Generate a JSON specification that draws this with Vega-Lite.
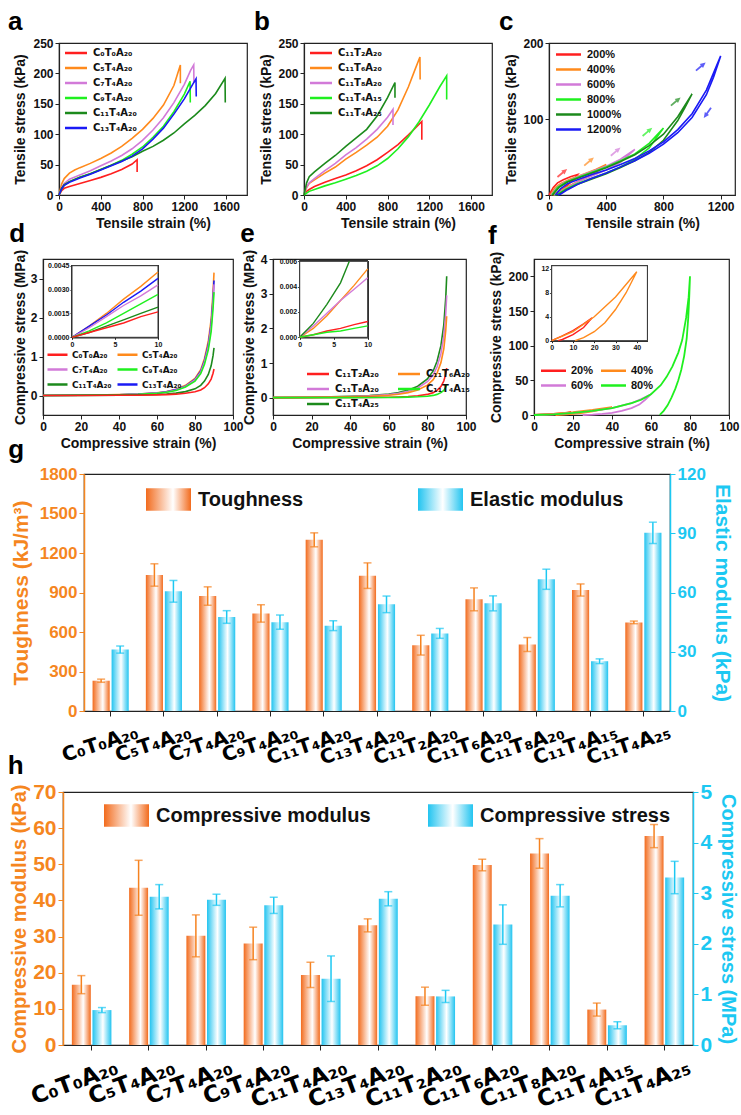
{
"$schema":"https://vega.github.io/schema/vega-lite/v6.json",
"padding":{"top":8,"left":0,"right":0,"bottom":0},
"background":"white",
"config":{
 "font":"Liberation Sans",
 "view":{"stroke":"#222","strokeWidth":1.2},
 "axis":{"grid":false,"labelFont":"Liberation Sans","labelFontWeight":"bold","labelFontSize":12,"labelColor":"#111","titleFont":"Liberation Sans","titleFontWeight":"bold","titleFontSize":14,"titleColor":"#111","domainColor":"#222","domainWidth":1.2,"tickColor":"#222","tickSize":4,"labelPadding":2,"titlePadding":4,"labelFlush":false,"labelOverlap":false},
 "legend":{"labelFont":"DejaVu Sans","labelFontWeight":"bold","labelColor":"#111","labelLimit":400,"padding":0},
 "title":{"anchor":"start","frame":"bounds","fontSize":26,"fontWeight":"bold","font":"Liberation Sans","color":"#000","offset":2}
},
"datasets":{
"sp":[{"a":0}],
"pa":[
{"s":"C₀T₀A₂₀","i":0,"x":0,"y":0},{"s":"C₀T₀A₂₀","i":1,"x":25,"y":7},{"s":"C₀T₀A₂₀","i":2,"x":50,"y":11},{"s":"C₀T₀A₂₀","i":3,"x":100,"y":14},{"s":"C₀T₀A₂₀","i":4,"x":200,"y":19},{"s":"C₀T₀A₂₀","i":5,"x":300,"y":24},{"s":"C₀T₀A₂₀","i":6,"x":400,"y":29},{"s":"C₀T₀A₂₀","i":7,"x":500,"y":35},{"s":"C₀T₀A₂₀","i":8,"x":600,"y":42},{"s":"C₀T₀A₂₀","i":9,"x":700,"y":51},{"s":"C₀T₀A₂₀","i":10,"x":748,"y":58},{"s":"C₀T₀A₂₀","i":11,"x":748,"y":38},
{"s":"C₅T₄A₂₀","i":0,"x":0,"y":0},{"s":"C₅T₄A₂₀","i":1,"x":25,"y":18},{"s":"C₅T₄A₂₀","i":2,"x":50,"y":27},{"s":"C₅T₄A₂₀","i":3,"x":100,"y":36},{"s":"C₅T₄A₂₀","i":4,"x":150,"y":41},{"s":"C₅T₄A₂₀","i":5,"x":200,"y":45},{"s":"C₅T₄A₂₀","i":6,"x":300,"y":52},{"s":"C₅T₄A₂₀","i":7,"x":400,"y":60},{"s":"C₅T₄A₂₀","i":8,"x":500,"y":69},{"s":"C₅T₄A₂₀","i":9,"x":600,"y":80},{"s":"C₅T₄A₂₀","i":10,"x":700,"y":93},{"s":"C₅T₄A₂₀","i":11,"x":800,"y":108},{"s":"C₅T₄A₂₀","i":12,"x":900,"y":126},{"s":"C₅T₄A₂₀","i":13,"x":1000,"y":148},{"s":"C₅T₄A₂₀","i":14,"x":1100,"y":180},{"s":"C₅T₄A₂₀","i":15,"x":1162,"y":214},{"s":"C₅T₄A₂₀","i":16,"x":1162,"y":184},
{"s":"C₇T₄A₂₀","i":0,"x":0,"y":0},{"s":"C₇T₄A₂₀","i":1,"x":25,"y":12},{"s":"C₇T₄A₂₀","i":2,"x":50,"y":19},{"s":"C₇T₄A₂₀","i":3,"x":100,"y":26},{"s":"C₇T₄A₂₀","i":4,"x":200,"y":33},{"s":"C₇T₄A₂₀","i":5,"x":300,"y":40},{"s":"C₇T₄A₂₀","i":6,"x":400,"y":48},{"s":"C₇T₄A₂₀","i":7,"x":500,"y":56},{"s":"C₇T₄A₂₀","i":8,"x":600,"y":65},{"s":"C₇T₄A₂₀","i":9,"x":700,"y":76},{"s":"C₇T₄A₂₀","i":10,"x":800,"y":90},{"s":"C₇T₄A₂₀","i":11,"x":900,"y":107},{"s":"C₇T₄A₂₀","i":12,"x":1000,"y":127},{"s":"C₇T₄A₂₀","i":13,"x":1100,"y":152},{"s":"C₇T₄A₂₀","i":14,"x":1200,"y":182},{"s":"C₇T₄A₂₀","i":15,"x":1260,"y":205},{"s":"C₇T₄A₂₀","i":16,"x":1290,"y":214},{"s":"C₇T₄A₂₀","i":17,"x":1292,"y":184},
{"s":"C₉T₄A₂₀","i":0,"x":0,"y":0},{"s":"C₉T₄A₂₀","i":1,"x":25,"y":10},{"s":"C₉T₄A₂₀","i":2,"x":50,"y":16},{"s":"C₉T₄A₂₀","i":3,"x":100,"y":22},{"s":"C₉T₄A₂₀","i":4,"x":200,"y":29},{"s":"C₉T₄A₂₀","i":5,"x":300,"y":35},{"s":"C₉T₄A₂₀","i":6,"x":400,"y":42},{"s":"C₉T₄A₂₀","i":7,"x":500,"y":49},{"s":"C₉T₄A₂₀","i":8,"x":600,"y":57},{"s":"C₉T₄A₂₀","i":9,"x":700,"y":67},{"s":"C₉T₄A₂₀","i":10,"x":800,"y":79},{"s":"C₉T₄A₂₀","i":11,"x":900,"y":95},{"s":"C₉T₄A₂₀","i":12,"x":1000,"y":113},{"s":"C₉T₄A₂₀","i":13,"x":1100,"y":137},{"s":"C₉T₄A₂₀","i":14,"x":1200,"y":166},{"s":"C₉T₄A₂₀","i":15,"x":1255,"y":187},{"s":"C₉T₄A₂₀","i":16,"x":1257,"y":152},
{"s":"C₁₁T₄A₂₀","i":0,"x":0,"y":0},{"s":"C₁₁T₄A₂₀","i":1,"x":25,"y":11},{"s":"C₁₁T₄A₂₀","i":2,"x":50,"y":17},{"s":"C₁₁T₄A₂₀","i":3,"x":100,"y":22},{"s":"C₁₁T₄A₂₀","i":4,"x":200,"y":29},{"s":"C₁₁T₄A₂₀","i":5,"x":300,"y":35},{"s":"C₁₁T₄A₂₀","i":6,"x":400,"y":42},{"s":"C₁₁T₄A₂₀","i":7,"x":500,"y":49},{"s":"C₁₁T₄A₂₀","i":8,"x":600,"y":56},{"s":"C₁₁T₄A₂₀","i":9,"x":700,"y":63},{"s":"C₁₁T₄A₂₀","i":10,"x":800,"y":72},{"s":"C₁₁T₄A₂₀","i":11,"x":900,"y":80},{"s":"C₁₁T₄A₂₀","i":12,"x":1000,"y":90},{"s":"C₁₁T₄A₂₀","i":13,"x":1100,"y":102},{"s":"C₁₁T₄A₂₀","i":14,"x":1200,"y":117},{"s":"C₁₁T₄A₂₀","i":15,"x":1300,"y":131},{"s":"C₁₁T₄A₂₀","i":16,"x":1400,"y":147},{"s":"C₁₁T₄A₂₀","i":17,"x":1500,"y":167},{"s":"C₁₁T₄A₂₀","i":18,"x":1590,"y":192},{"s":"C₁₁T₄A₂₀","i":19,"x":1592,"y":152},
{"s":"C₁₃T₄A₂₀","i":0,"x":0,"y":0},{"s":"C₁₃T₄A₂₀","i":1,"x":25,"y":10},{"s":"C₁₃T₄A₂₀","i":2,"x":50,"y":16},{"s":"C₁₃T₄A₂₀","i":3,"x":100,"y":21},{"s":"C₁₃T₄A₂₀","i":4,"x":200,"y":28},{"s":"C₁₃T₄A₂₀","i":5,"x":300,"y":34},{"s":"C₁₃T₄A₂₀","i":6,"x":400,"y":41},{"s":"C₁₃T₄A₂₀","i":7,"x":500,"y":48},{"s":"C₁₃T₄A₂₀","i":8,"x":600,"y":55},{"s":"C₁₃T₄A₂₀","i":9,"x":700,"y":64},{"s":"C₁₃T₄A₂₀","i":10,"x":800,"y":76},{"s":"C₁₃T₄A₂₀","i":11,"x":900,"y":92},{"s":"C₁₃T₄A₂₀","i":12,"x":1000,"y":110},{"s":"C₁₃T₄A₂₀","i":13,"x":1100,"y":133},{"s":"C₁₃T₄A₂₀","i":14,"x":1200,"y":158},{"s":"C₁₃T₄A₂₀","i":15,"x":1280,"y":182},{"s":"C₁₃T₄A₂₀","i":16,"x":1312,"y":191},{"s":"C₁₃T₄A₂₀","i":17,"x":1314,"y":162}
],
"pb":[
{"s":"C₁₁T₂A₂₀","i":0,"x":0,"y":0},{"s":"C₁₁T₂A₂₀","i":1,"x":25,"y":6},{"s":"C₁₁T₂A₂₀","i":2,"x":50,"y":9},{"s":"C₁₁T₂A₂₀","i":3,"x":100,"y":14},{"s":"C₁₁T₂A₂₀","i":4,"x":200,"y":21},{"s":"C₁₁T₂A₂₀","i":5,"x":300,"y":27},{"s":"C₁₁T₂A₂₀","i":6,"x":400,"y":33},{"s":"C₁₁T₂A₂₀","i":7,"x":500,"y":40},{"s":"C₁₁T₂A₂₀","i":8,"x":600,"y":48},{"s":"C₁₁T₂A₂₀","i":9,"x":700,"y":58},{"s":"C₁₁T₂A₂₀","i":10,"x":800,"y":70},{"s":"C₁₁T₂A₂₀","i":11,"x":900,"y":83},{"s":"C₁₁T₂A₂₀","i":12,"x":1000,"y":99},{"s":"C₁₁T₂A₂₀","i":13,"x":1100,"y":116},{"s":"C₁₁T₂A₂₀","i":14,"x":1128,"y":121},{"s":"C₁₁T₂A₂₀","i":15,"x":1128,"y":91},
{"s":"C₁₁T₆A₂₀","i":0,"x":0,"y":0},{"s":"C₁₁T₆A₂₀","i":1,"x":25,"y":12},{"s":"C₁₁T₆A₂₀","i":2,"x":50,"y":19},{"s":"C₁₁T₆A₂₀","i":3,"x":100,"y":25},{"s":"C₁₁T₆A₂₀","i":4,"x":200,"y":36},{"s":"C₁₁T₆A₂₀","i":5,"x":300,"y":46},{"s":"C₁₁T₆A₂₀","i":6,"x":400,"y":59},{"s":"C₁₁T₆A₂₀","i":7,"x":500,"y":70},{"s":"C₁₁T₆A₂₀","i":8,"x":600,"y":82},{"s":"C₁₁T₆A₂₀","i":9,"x":700,"y":95},{"s":"C₁₁T₆A₂₀","i":10,"x":800,"y":113},{"s":"C₁₁T₆A₂₀","i":11,"x":900,"y":140},{"s":"C₁₁T₆A₂₀","i":12,"x":1000,"y":178},{"s":"C₁₁T₆A₂₀","i":13,"x":1060,"y":205},{"s":"C₁₁T₆A₂₀","i":14,"x":1110,"y":227},{"s":"C₁₁T₆A₂₀","i":15,"x":1112,"y":190},
{"s":"C₁₁T₈A₂₀","i":0,"x":0,"y":0},{"s":"C₁₁T₈A₂₀","i":1,"x":25,"y":13},{"s":"C₁₁T₈A₂₀","i":2,"x":50,"y":20},{"s":"C₁₁T₈A₂₀","i":3,"x":100,"y":27},{"s":"C₁₁T₈A₂₀","i":4,"x":200,"y":40},{"s":"C₁₁T₈A₂₀","i":5,"x":300,"y":52},{"s":"C₁₁T₈A₂₀","i":6,"x":400,"y":66},{"s":"C₁₁T₈A₂₀","i":7,"x":500,"y":78},{"s":"C₁₁T₈A₂₀","i":8,"x":600,"y":92},{"s":"C₁₁T₈A₂₀","i":9,"x":700,"y":108},{"s":"C₁₁T₈A₂₀","i":10,"x":800,"y":128},{"s":"C₁₁T₈A₂₀","i":11,"x":852,"y":141},{"s":"C₁₁T₈A₂₀","i":12,"x":852,"y":115},
{"s":"C₁₁T₄A₁₅","i":0,"x":0,"y":0},{"s":"C₁₁T₄A₁₅","i":1,"x":25,"y":3},{"s":"C₁₁T₄A₁₅","i":2,"x":50,"y":6},{"s":"C₁₁T₄A₁₅","i":3,"x":100,"y":9},{"s":"C₁₁T₄A₁₅","i":4,"x":200,"y":15},{"s":"C₁₁T₄A₁₅","i":5,"x":300,"y":20},{"s":"C₁₁T₄A₁₅","i":6,"x":400,"y":26},{"s":"C₁₁T₄A₁₅","i":7,"x":500,"y":32},{"s":"C₁₁T₄A₁₅","i":8,"x":600,"y":39},{"s":"C₁₁T₄A₁₅","i":9,"x":700,"y":48},{"s":"C₁₁T₄A₁₅","i":10,"x":800,"y":60},{"s":"C₁₁T₄A₁₅","i":11,"x":900,"y":76},{"s":"C₁₁T₄A₁₅","i":12,"x":1000,"y":96},{"s":"C₁₁T₄A₁₅","i":13,"x":1100,"y":120},{"s":"C₁₁T₄A₁₅","i":14,"x":1200,"y":148},{"s":"C₁₁T₄A₁₅","i":15,"x":1300,"y":178},{"s":"C₁₁T₄A₁₅","i":16,"x":1366,"y":196},{"s":"C₁₁T₄A₁₅","i":17,"x":1366,"y":157},
{"s":"C₁₁T₄A₂₅","i":0,"x":0,"y":0},{"s":"C₁₁T₄A₂₅","i":1,"x":25,"y":20},{"s":"C₁₁T₄A₂₅","i":2,"x":50,"y":30},{"s":"C₁₁T₄A₂₅","i":3,"x":100,"y":38},{"s":"C₁₁T₄A₂₅","i":4,"x":200,"y":52},{"s":"C₁₁T₄A₂₅","i":5,"x":300,"y":65},{"s":"C₁₁T₄A₂₅","i":6,"x":400,"y":80},{"s":"C₁₁T₄A₂₅","i":7,"x":500,"y":94},{"s":"C₁₁T₄A₂₅","i":8,"x":600,"y":108},{"s":"C₁₁T₄A₂₅","i":9,"x":700,"y":130},{"s":"C₁₁T₄A₂₅","i":10,"x":800,"y":160},{"s":"C₁₁T₄A₂₅","i":11,"x":871,"y":185},{"s":"C₁₁T₄A₂₅","i":12,"x":871,"y":160}
],
"pc":[
{"s":"200%","i":0,"x":0,"y":0},{"s":"200%","i":1,"x":30,"y":10},{"s":"200%","i":2,"x":60,"y":16},{"s":"200%","i":3,"x":100,"y":20},{"s":"200%","i":4,"x":150,"y":24},{"s":"200%","i":5,"x":200,"y":27},{"s":"200%","i":6,"x":170,"y":20},{"s":"200%","i":7,"x":130,"y":13},{"s":"200%","i":8,"x":90,"y":7},{"s":"200%","i":9,"x":50,"y":2},{"s":"200%","i":10,"x":25,"y":0},
{"s":"400%","i":0,"x":10,"y":0},{"s":"400%","i":1,"x":40,"y":9},{"s":"400%","i":2,"x":80,"y":15},{"s":"400%","i":3,"x":150,"y":21},{"s":"400%","i":4,"x":250,"y":28},{"s":"400%","i":5,"x":330,"y":34},{"s":"400%","i":6,"x":400,"y":40},{"s":"400%","i":7,"x":330,"y":30},{"s":"400%","i":8,"x":250,"y":22},{"s":"400%","i":9,"x":170,"y":15},{"s":"400%","i":10,"x":100,"y":8},{"s":"400%","i":11,"x":50,"y":2},{"s":"400%","i":12,"x":30,"y":0},
{"s":"600%","i":0,"x":15,"y":0},{"s":"600%","i":1,"x":50,"y":9},{"s":"600%","i":2,"x":100,"y":16},{"s":"600%","i":3,"x":200,"y":24},{"s":"600%","i":4,"x":300,"y":31},{"s":"600%","i":5,"x":400,"y":38},{"s":"600%","i":6,"x":500,"y":47},{"s":"600%","i":7,"x":600,"y":60},{"s":"600%","i":8,"x":500,"y":43},{"s":"600%","i":9,"x":400,"y":33},{"s":"600%","i":10,"x":300,"y":25},{"s":"600%","i":11,"x":200,"y":17},{"s":"600%","i":12,"x":120,"y":9},{"s":"600%","i":13,"x":60,"y":2},{"s":"600%","i":14,"x":35,"y":0},
{"s":"800%","i":0,"x":20,"y":0},{"s":"800%","i":1,"x":60,"y":10},{"s":"800%","i":2,"x":120,"y":17},{"s":"800%","i":3,"x":200,"y":23},{"s":"800%","i":4,"x":300,"y":30},{"s":"800%","i":5,"x":400,"y":37},{"s":"800%","i":6,"x":500,"y":45},{"s":"800%","i":7,"x":600,"y":54},{"s":"800%","i":8,"x":700,"y":68},{"s":"800%","i":9,"x":800,"y":88},{"s":"800%","i":10,"x":700,"y":62},{"s":"800%","i":11,"x":600,"y":47},{"s":"800%","i":12,"x":500,"y":37},{"s":"800%","i":13,"x":400,"y":29},{"s":"800%","i":14,"x":300,"y":22},{"s":"800%","i":15,"x":200,"y":15},{"s":"800%","i":16,"x":120,"y":8},{"s":"800%","i":17,"x":60,"y":1},{"s":"800%","i":18,"x":40,"y":0},
{"s":"1000%","i":0,"x":25,"y":0},{"s":"1000%","i":1,"x":70,"y":10},{"s":"1000%","i":2,"x":130,"y":17},{"s":"1000%","i":3,"x":200,"y":22},{"s":"1000%","i":4,"x":300,"y":29},{"s":"1000%","i":5,"x":400,"y":36},{"s":"1000%","i":6,"x":500,"y":44},{"s":"1000%","i":7,"x":600,"y":53},{"s":"1000%","i":8,"x":700,"y":65},{"s":"1000%","i":9,"x":800,"y":80},{"s":"1000%","i":10,"x":900,"y":103},{"s":"1000%","i":11,"x":1000,"y":133},{"s":"1000%","i":12,"x":950,"y":115},{"s":"1000%","i":13,"x":900,"y":98},{"s":"1000%","i":14,"x":800,"y":72},{"s":"1000%","i":15,"x":700,"y":56},{"s":"1000%","i":16,"x":600,"y":45},{"s":"1000%","i":17,"x":500,"y":36},{"s":"1000%","i":18,"x":400,"y":28},{"s":"1000%","i":19,"x":300,"y":21},{"s":"1000%","i":20,"x":200,"y":14},{"s":"1000%","i":21,"x":120,"y":7},{"s":"1000%","i":22,"x":70,"y":1},{"s":"1000%","i":23,"x":50,"y":0},
{"s":"1200%","i":0,"x":45,"y":0},{"s":"1200%","i":1,"x":80,"y":8},{"s":"1200%","i":2,"x":130,"y":15},{"s":"1200%","i":3,"x":200,"y":20},{"s":"1200%","i":4,"x":300,"y":27},{"s":"1200%","i":5,"x":400,"y":33},{"s":"1200%","i":6,"x":500,"y":40},{"s":"1200%","i":7,"x":600,"y":48},{"s":"1200%","i":8,"x":700,"y":58},{"s":"1200%","i":9,"x":800,"y":70},{"s":"1200%","i":10,"x":900,"y":86},{"s":"1200%","i":11,"x":1000,"y":107},{"s":"1200%","i":12,"x":1100,"y":138},{"s":"1200%","i":13,"x":1200,"y":183},{"s":"1200%","i":14,"x":1150,"y":155},{"s":"1200%","i":15,"x":1100,"y":132},{"s":"1200%","i":16,"x":1000,"y":102},{"s":"1200%","i":17,"x":900,"y":82},{"s":"1200%","i":18,"x":800,"y":67},{"s":"1200%","i":19,"x":700,"y":55},{"s":"1200%","i":20,"x":600,"y":45},{"s":"1200%","i":21,"x":500,"y":37},{"s":"1200%","i":22,"x":400,"y":29},{"s":"1200%","i":23,"x":300,"y":22},{"s":"1200%","i":24,"x":200,"y":14},{"s":"1200%","i":25,"x":130,"y":7},{"s":"1200%","i":26,"x":80,"y":1},{"s":"1200%","i":27,"x":60,"y":0}
],
"pcarr":[
{"s":"200%","d":"up","x":93,"y":29},{"s":"400%","d":"up","x":280,"y":44},{"s":"600%","d":"up","x":466,"y":57},{"s":"800%","d":"up","x":688,"y":83},{"s":"1000%","d":"up","x":886,"y":123},{"s":"1200%","d":"up","x":1061,"y":169},{"s":"1200%","d":"down","x":1107,"y":108}
],
"pd":[
{"s":"C₅T₄A₂₀","x":0,"y":0},{"s":"C₅T₄A₂₀","x":20,"y":0.006},{"s":"C₅T₄A₂₀","x":40,"y":0.022},{"s":"C₅T₄A₂₀","x":50,"y":0.038},{"s":"C₅T₄A₂₀","x":60,"y":0.069},{"s":"C₅T₄A₂₀","x":65,"y":0.1},{"s":"C₅T₄A₂₀","x":70,"y":0.16},{"s":"C₅T₄A₂₀","x":75,"y":0.26},{"s":"C₅T₄A₂₀","x":80,"y":0.44},{"s":"C₅T₄A₂₀","x":83,"y":0.66},{"s":"C₅T₄A₂₀","x":85,"y":0.95},{"s":"C₅T₄A₂₀","x":87,"y":1.39},{"s":"C₅T₄A₂₀","x":88.5,"y":1.95},{"s":"C₅T₄A₂₀","x":89.5,"y":2.65},{"s":"C₅T₄A₂₀","x":90,"y":3.15},
{"s":"C₁₃T₄A₂₀","x":0,"y":0},{"s":"C₁₃T₄A₂₀","x":20,"y":0.006},{"s":"C₁₃T₄A₂₀","x":40,"y":0.021},{"s":"C₁₃T₄A₂₀","x":50,"y":0.035},{"s":"C₁₃T₄A₂₀","x":60,"y":0.065},{"s":"C₁₃T₄A₂₀","x":65,"y":0.094},{"s":"C₁₃T₄A₂₀","x":70,"y":0.15},{"s":"C₁₃T₄A₂₀","x":75,"y":0.24},{"s":"C₁₃T₄A₂₀","x":80,"y":0.41},{"s":"C₁₃T₄A₂₀","x":83,"y":0.62},{"s":"C₁₃T₄A₂₀","x":85,"y":0.89},{"s":"C₁₃T₄A₂₀","x":87,"y":1.3},{"s":"C₁₃T₄A₂₀","x":88.5,"y":1.83},{"s":"C₁₃T₄A₂₀","x":89.5,"y":2.48},{"s":"C₁₃T₄A₂₀","x":90,"y":2.95},
{"s":"C₇T₄A₂₀","x":0,"y":0},{"s":"C₇T₄A₂₀","x":20,"y":0.006},{"s":"C₇T₄A₂₀","x":40,"y":0.02},{"s":"C₇T₄A₂₀","x":50,"y":0.034},{"s":"C₇T₄A₂₀","x":60,"y":0.063},{"s":"C₇T₄A₂₀","x":65,"y":0.091},{"s":"C₇T₄A₂₀","x":70,"y":0.14},{"s":"C₇T₄A₂₀","x":75,"y":0.23},{"s":"C₇T₄A₂₀","x":80,"y":0.4},{"s":"C₇T₄A₂₀","x":83,"y":0.6},{"s":"C₇T₄A₂₀","x":85,"y":0.86},{"s":"C₇T₄A₂₀","x":87,"y":1.25},{"s":"C₇T₄A₂₀","x":88.5,"y":1.77},{"s":"C₇T₄A₂₀","x":89.5,"y":2.39},{"s":"C₇T₄A₂₀","x":90,"y":2.85},
{"s":"C₉T₄A₂₀","x":0,"y":0},{"s":"C₉T₄A₂₀","x":20,"y":0.005},{"s":"C₉T₄A₂₀","x":40,"y":0.019},{"s":"C₉T₄A₂₀","x":50,"y":0.032},{"s":"C₉T₄A₂₀","x":60,"y":0.058},{"s":"C₉T₄A₂₀","x":65,"y":0.085},{"s":"C₉T₄A₂₀","x":70,"y":0.13},{"s":"C₉T₄A₂₀","x":75,"y":0.22},{"s":"C₉T₄A₂₀","x":80,"y":0.37},{"s":"C₉T₄A₂₀","x":83,"y":0.56},{"s":"C₉T₄A₂₀","x":85,"y":0.8},{"s":"C₉T₄A₂₀","x":87,"y":1.17},{"s":"C₉T₄A₂₀","x":88.5,"y":1.64},{"s":"C₉T₄A₂₀","x":89.5,"y":2.23},{"s":"C₉T₄A₂₀","x":90,"y":2.65},
{"s":"C₁₁T₄A₂₀","x":0,"y":0},{"s":"C₁₁T₄A₂₀","x":20,"y":0.003},{"s":"C₁₁T₄A₂₀","x":40,"y":0.009},{"s":"C₁₁T₄A₂₀","x":50,"y":0.015},{"s":"C₁₁T₄A₂₀","x":60,"y":0.027},{"s":"C₁₁T₄A₂₀","x":65,"y":0.039},{"s":"C₁₁T₄A₂₀","x":70,"y":0.061},{"s":"C₁₁T₄A₂₀","x":75,"y":0.1},{"s":"C₁₁T₄A₂₀","x":80,"y":0.17},{"s":"C₁₁T₄A₂₀","x":83,"y":0.26},{"s":"C₁₁T₄A₂₀","x":85,"y":0.37},{"s":"C₁₁T₄A₂₀","x":87,"y":0.54},{"s":"C₁₁T₄A₂₀","x":88.5,"y":0.76},{"s":"C₁₁T₄A₂₀","x":89.5,"y":1.02},{"s":"C₁₁T₄A₂₀","x":90,"y":1.22},
{"s":"C₀T₀A₂₀","x":0,"y":0},{"s":"C₀T₀A₂₀","x":20,"y":0.001},{"s":"C₀T₀A₂₀","x":40,"y":0.005},{"s":"C₀T₀A₂₀","x":50,"y":0.008},{"s":"C₀T₀A₂₀","x":60,"y":0.015},{"s":"C₀T₀A₂₀","x":65,"y":0.022},{"s":"C₀T₀A₂₀","x":70,"y":0.034},{"s":"C₀T₀A₂₀","x":75,"y":0.056},{"s":"C₀T₀A₂₀","x":80,"y":0.095},{"s":"C₀T₀A₂₀","x":83,"y":0.14},{"s":"C₀T₀A₂₀","x":85,"y":0.2},{"s":"C₀T₀A₂₀","x":87,"y":0.3},{"s":"C₀T₀A₂₀","x":88.5,"y":0.42},{"s":"C₀T₀A₂₀","x":89.5,"y":0.57},{"s":"C₀T₀A₂₀","x":90,"y":0.68}
],
"pdi":[
{"s":"C₅T₄A₂₀","x":0,"y":0},{"s":"C₅T₄A₂₀","x":2,"y":0.0007},{"s":"C₅T₄A₂₀","x":4,"y":0.0015},{"s":"C₅T₄A₂₀","x":6,"y":0.0024},{"s":"C₅T₄A₂₀","x":8,"y":0.0032},{"s":"C₅T₄A₂₀","x":10,"y":0.0041},
{"s":"C₁₃T₄A₂₀","x":0,"y":0},{"s":"C₁₃T₄A₂₀","x":2,"y":0.0007},{"s":"C₁₃T₄A₂₀","x":4,"y":0.0014},{"s":"C₁₃T₄A₂₀","x":6,"y":0.0022},{"s":"C₁₃T₄A₂₀","x":8,"y":0.0029},{"s":"C₁₃T₄A₂₀","x":10,"y":0.0037},
{"s":"C₇T₄A₂₀","x":0,"y":0},{"s":"C₇T₄A₂₀","x":2,"y":0.0006},{"s":"C₇T₄A₂₀","x":4,"y":0.0013},{"s":"C₇T₄A₂₀","x":6,"y":0.002},{"s":"C₇T₄A₂₀","x":8,"y":0.0026},{"s":"C₇T₄A₂₀","x":10,"y":0.0033},
{"s":"C₉T₄A₂₀","x":0,"y":0},{"s":"C₉T₄A₂₀","x":2,"y":0.0004},{"s":"C₉T₄A₂₀","x":4,"y":0.0009},{"s":"C₉T₄A₂₀","x":6,"y":0.0015},{"s":"C₉T₄A₂₀","x":8,"y":0.0021},{"s":"C₉T₄A₂₀","x":10,"y":0.0027},
{"s":"C₁₁T₄A₂₀","x":0,"y":0},{"s":"C₁₁T₄A₂₀","x":2,"y":0.0003},{"s":"C₁₁T₄A₂₀","x":4,"y":0.0007},{"s":"C₁₁T₄A₂₀","x":6,"y":0.0011},{"s":"C₁₁T₄A₂₀","x":8,"y":0.0015},{"s":"C₁₁T₄A₂₀","x":10,"y":0.0019},
{"s":"C₀T₀A₂₀","x":0,"y":0},{"s":"C₀T₀A₂₀","x":2,"y":0.0003},{"s":"C₀T₀A₂₀","x":4,"y":0.0006},{"s":"C₀T₀A₂₀","x":6,"y":0.0009},{"s":"C₀T₀A₂₀","x":8,"y":0.0013},{"s":"C₀T₀A₂₀","x":10,"y":0.0016}
],
"pe":[
{"s":"C₁₁T₄A₂₅","x":0,"y":0},{"s":"C₁₁T₄A₂₅","x":20,"y":0.014},{"s":"C₁₁T₄A₂₅","x":40,"y":0.042},{"s":"C₁₁T₄A₂₅","x":50,"y":0.063},{"s":"C₁₁T₄A₂₅","x":60,"y":0.105},{"s":"C₁₁T₄A₂₅","x":65,"y":0.147},{"s":"C₁₁T₄A₂₅","x":70,"y":0.217},{"s":"C₁₁T₄A₂₅","x":75,"y":0.33},{"s":"C₁₁T₄A₂₅","x":80,"y":0.54},{"s":"C₁₁T₄A₂₅","x":83,"y":0.77},{"s":"C₁₁T₄A₂₅","x":85,"y":1.05},{"s":"C₁₁T₄A₂₅","x":87,"y":1.5},{"s":"C₁₁T₄A₂₅","x":88.5,"y":2.1},{"s":"C₁₁T₄A₂₅","x":89.5,"y":2.87},{"s":"C₁₁T₄A₂₅","x":90,"y":3.5},
{"s":"C₁₁T₈A₂₀","x":0,"y":0},{"s":"C₁₁T₈A₂₀","x":20,"y":0.012},{"s":"C₁₁T₈A₂₀","x":40,"y":0.035},{"s":"C₁₁T₈A₂₀","x":50,"y":0.053},{"s":"C₁₁T₈A₂₀","x":60,"y":0.089},{"s":"C₁₁T₈A₂₀","x":65,"y":0.124},{"s":"C₁₁T₈A₂₀","x":70,"y":0.183},{"s":"C₁₁T₈A₂₀","x":75,"y":0.28},{"s":"C₁₁T₈A₂₀","x":80,"y":0.46},{"s":"C₁₁T₈A₂₀","x":83,"y":0.65},{"s":"C₁₁T₈A₂₀","x":85,"y":0.89},{"s":"C₁₁T₈A₂₀","x":87,"y":1.27},{"s":"C₁₁T₈A₂₀","x":88.5,"y":1.77},{"s":"C₁₁T₈A₂₀","x":89.5,"y":2.42},{"s":"C₁₁T₈A₂₀","x":90,"y":2.95},
{"s":"C₁₁T₆A₂₀","x":0,"y":0},{"s":"C₁₁T₆A₂₀","x":20,"y":0.009},{"s":"C₁₁T₆A₂₀","x":40,"y":0.028},{"s":"C₁₁T₆A₂₀","x":50,"y":0.042},{"s":"C₁₁T₆A₂₀","x":60,"y":0.07},{"s":"C₁₁T₆A₂₀","x":65,"y":0.099},{"s":"C₁₁T₆A₂₀","x":70,"y":0.146},{"s":"C₁₁T₆A₂₀","x":75,"y":0.22},{"s":"C₁₁T₆A₂₀","x":80,"y":0.36},{"s":"C₁₁T₆A₂₀","x":83,"y":0.52},{"s":"C₁₁T₆A₂₀","x":85,"y":0.71},{"s":"C₁₁T₆A₂₀","x":87,"y":1.01},{"s":"C₁₁T₆A₂₀","x":88.5,"y":1.41},{"s":"C₁₁T₆A₂₀","x":89.5,"y":1.93},{"s":"C₁₁T₆A₂₀","x":90,"y":2.35},
{"s":"C₁₁T₂A₂₀","x":0,"y":0},{"s":"C₁₁T₂A₂₀","x":20,"y":0.002},{"s":"C₁₁T₂A₂₀","x":40,"y":0.005},{"s":"C₁₁T₂A₂₀","x":50,"y":0.0085},{"s":"C₁₁T₂A₂₀","x":60,"y":0.014},{"s":"C₁₁T₂A₂₀","x":65,"y":0.021},{"s":"C₁₁T₂A₂₀","x":70,"y":0.034},{"s":"C₁₁T₂A₂₀","x":75,"y":0.055},{"s":"C₁₁T₂A₂₀","x":80,"y":0.094},{"s":"C₁₁T₂A₂₀","x":83,"y":0.145},{"s":"C₁₁T₂A₂₀","x":85,"y":0.21},{"s":"C₁₁T₂A₂₀","x":87,"y":0.32},{"s":"C₁₁T₂A₂₀","x":88.5,"y":0.48},{"s":"C₁₁T₂A₂₀","x":89.5,"y":0.68},{"s":"C₁₁T₂A₂₀","x":90,"y":0.85},
{"s":"C₁₁T₄A₁₅","x":0,"y":0},{"s":"C₁₁T₄A₁₅","x":20,"y":0.001},{"s":"C₁₁T₄A₁₅","x":40,"y":0.002},{"s":"C₁₁T₄A₁₅","x":50,"y":0.004},{"s":"C₁₁T₄A₁₅","x":60,"y":0.0065},{"s":"C₁₁T₄A₁₅","x":65,"y":0.0095},{"s":"C₁₁T₄A₁₅","x":70,"y":0.015},{"s":"C₁₁T₄A₁₅","x":75,"y":0.025},{"s":"C₁₁T₄A₁₅","x":80,"y":0.042},{"s":"C₁₁T₄A₁₅","x":83,"y":0.065},{"s":"C₁₁T₄A₁₅","x":85,"y":0.095},{"s":"C₁₁T₄A₁₅","x":87,"y":0.144},{"s":"C₁₁T₄A₁₅","x":88.5,"y":0.21},{"s":"C₁₁T₄A₁₅","x":89.5,"y":0.3},{"s":"C₁₁T₄A₁₅","x":90,"y":0.38}
],
"pei":[
{"s":"C₁₁T₆A₂₀","x":0,"y":0},{"s":"C₁₁T₆A₂₀","x":2,"y":0.0007},{"s":"C₁₁T₆A₂₀","x":4,"y":0.0017},{"s":"C₁₁T₆A₂₀","x":6,"y":0.0029},{"s":"C₁₁T₆A₂₀","x":8,"y":0.0041},{"s":"C₁₁T₆A₂₀","x":10,"y":0.0054},
{"s":"C₁₁T₈A₂₀","x":0,"y":0},{"s":"C₁₁T₈A₂₀","x":2,"y":0.0009},{"s":"C₁₁T₈A₂₀","x":4,"y":0.0019},{"s":"C₁₁T₈A₂₀","x":6,"y":0.0029},{"s":"C₁₁T₈A₂₀","x":8,"y":0.0038},{"s":"C₁₁T₈A₂₀","x":10,"y":0.0047},
{"s":"C₁₁T₄A₂₅","x":0,"y":0},{"s":"C₁₁T₄A₂₅","x":2,"y":0.0011},{"s":"C₁₁T₄A₂₅","x":4,"y":0.0026},{"s":"C₁₁T₄A₂₅","x":6,"y":0.0043},{"s":"C₁₁T₄A₂₅","x":7.3,"y":0.006},
{"s":"C₁₁T₂A₂₀","x":0,"y":0},{"s":"C₁₁T₂A₂₀","x":2,"y":0.0002},{"s":"C₁₁T₂A₂₀","x":4,"y":0.0005},{"s":"C₁₁T₂A₂₀","x":6,"y":0.0007},{"s":"C₁₁T₂A₂₀","x":8,"y":0.001},{"s":"C₁₁T₂A₂₀","x":10,"y":0.00125},
{"s":"C₁₁T₄A₁₅","x":0,"y":0},{"s":"C₁₁T₄A₁₅","x":2,"y":0.0002},{"s":"C₁₁T₄A₁₅","x":4,"y":0.0004},{"s":"C₁₁T₄A₁₅","x":6,"y":0.0005},{"s":"C₁₁T₄A₁₅","x":8,"y":0.0007},{"s":"C₁₁T₄A₁₅","x":10,"y":0.0009}
],
"pf":[
{"s":"20%","i":0,"x":0,"y":0},{"s":"20%","i":1,"x":5,"y":0.8},{"s":"20%","i":2,"x":10,"y":1.7},{"s":"20%","i":3,"x":15,"y":2.8},{"s":"20%","i":4,"x":19,"y":3.8},{"s":"20%","i":5,"x":15,"y":2.2},{"s":"20%","i":6,"x":10,"y":1},{"s":"20%","i":7,"x":5,"y":0.2},{"s":"20%","i":8,"x":3,"y":0},
{"s":"40%","i":0,"x":0,"y":0},{"s":"40%","i":1,"x":10,"y":1.5},{"s":"40%","i":2,"x":20,"y":4},{"s":"40%","i":3,"x":30,"y":7.3},{"s":"40%","i":4,"x":40,"y":11.5},{"s":"40%","i":5,"x":35,"y":8},{"s":"40%","i":6,"x":30,"y":5.2},{"s":"40%","i":7,"x":25,"y":3},{"s":"40%","i":8,"x":20,"y":1.5},{"s":"40%","i":9,"x":15,"y":0.5},{"s":"40%","i":10,"x":11,"y":0},
{"s":"60%","i":0,"x":0,"y":0},{"s":"60%","i":1,"x":10,"y":1},{"s":"60%","i":2,"x":20,"y":3},{"s":"60%","i":3,"x":30,"y":6},{"s":"60%","i":4,"x":40,"y":10},{"s":"60%","i":5,"x":50,"y":17},{"s":"60%","i":6,"x":55,"y":23},{"s":"60%","i":7,"x":60,"y":30},{"s":"60%","i":8,"x":57,"y":22},{"s":"60%","i":9,"x":54,"y":15},{"s":"60%","i":10,"x":50,"y":10},{"s":"60%","i":11,"x":45,"y":6},{"s":"60%","i":12,"x":40,"y":3},{"s":"60%","i":13,"x":35,"y":1.5},{"s":"60%","i":14,"x":30,"y":0.5},{"s":"60%","i":15,"x":25,"y":0},
{"s":"80%","i":0,"x":0,"y":0},{"s":"80%","i":1,"x":10,"y":1},{"s":"80%","i":2,"x":20,"y":3},{"s":"80%","i":3,"x":30,"y":6},{"s":"80%","i":4,"x":40,"y":10},{"s":"80%","i":5,"x":50,"y":17},{"s":"80%","i":6,"x":55,"y":22},{"s":"80%","i":7,"x":60,"y":30},{"s":"80%","i":8,"x":65,"y":43},{"s":"80%","i":9,"x":68,"y":55},{"s":"80%","i":10,"x":71,"y":70},{"s":"80%","i":11,"x":74,"y":90},{"s":"80%","i":12,"x":76,"y":108},{"s":"80%","i":13,"x":78,"y":140},{"s":"80%","i":14,"x":79.3,"y":170},{"s":"80%","i":15,"x":80,"y":200},{"s":"80%","i":16,"x":79.6,"y":170},{"s":"80%","i":17,"x":79.1,"y":140},{"s":"80%","i":18,"x":78.3,"y":110},{"s":"80%","i":19,"x":77,"y":85},{"s":"80%","i":20,"x":75.5,"y":65},{"s":"80%","i":21,"x":74,"y":50},{"s":"80%","i":22,"x":72.5,"y":38},{"s":"80%","i":23,"x":70.5,"y":25},{"s":"80%","i":24,"x":68.5,"y":14},{"s":"80%","i":25,"x":66.5,"y":6},{"s":"80%","i":26,"x":65,"y":1.5},{"s":"80%","i":27,"x":64.5,"y":0}
],
"pg":[
{"s":"C₀T₀A₂₀","k":"Toughness","v":230,"lo":218,"hi":242},{"s":"C₀T₀A₂₀","k":"Elastic modulus","v":31.1,"lo":29.3,"hi":32.9},
{"s":"C₅T₄A₂₀","k":"Toughness","v":1033,"lo":948,"hi":1118},{"s":"C₅T₄A₂₀","k":"Elastic modulus","v":60.6,"lo":55.1,"hi":66.1},
{"s":"C₇T₄A₂₀","k":"Toughness","v":873,"lo":803,"hi":943},{"s":"C₇T₄A₂₀","k":"Elastic modulus","v":47.6,"lo":44.4,"hi":50.8},
{"s":"C₉T₄A₂₀","k":"Toughness","v":741,"lo":675,"hi":807},{"s":"C₉T₄A₂₀","k":"Elastic modulus","v":45.0,"lo":41.4,"hi":48.6},
{"s":"C₁₁T₄A₂₀","k":"Toughness","v":1300,"lo":1247,"hi":1353},{"s":"C₁₁T₄A₂₀","k":"Elastic modulus","v":43.2,"lo":40.7,"hi":45.7},
{"s":"C₁₃T₄A₂₀","k":"Toughness","v":1028,"lo":931,"hi":1125},{"s":"C₁₃T₄A₂₀","k":"Elastic modulus","v":54.0,"lo":49.8,"hi":58.2},
{"s":"C₁₁T₂A₂₀","k":"Toughness","v":500,"lo":425,"hi":575},{"s":"C₁₁T₂A₂₀","k":"Elastic modulus","v":39.3,"lo":36.8,"hi":41.8},
{"s":"C₁₁T₆A₂₀","k":"Toughness","v":848,"lo":761,"hi":935},{"s":"C₁₁T₆A₂₀","k":"Elastic modulus","v":54.5,"lo":50.7,"hi":58.3},
{"s":"C₁₁T₈A₂₀","k":"Toughness","v":505,"lo":452,"hi":558},{"s":"C₁₁T₈A₂₀","k":"Elastic modulus","v":66.7,"lo":61.6,"hi":71.8},
{"s":"C₁₁T₄A₁₅","k":"Toughness","v":919,"lo":873,"hi":965},{"s":"C₁₁T₄A₁₅","k":"Elastic modulus","v":25.2,"lo":24.0,"hi":26.4},
{"s":"C₁₁T₄A₂₅","k":"Toughness","v":673,"lo":663,"hi":683},{"s":"C₁₁T₄A₂₅","k":"Elastic modulus","v":90.2,"lo":84.8,"hi":95.6}
],
"ph":[
{"s":"C₀T₀A₂₀","k":"Compressive modulus","v":16.7,"lo":14.2,"hi":19.2},{"s":"C₀T₀A₂₀","k":"Compressive stress","v":0.69,"lo":0.64,"hi":0.74},
{"s":"C₅T₄A₂₀","k":"Compressive modulus","v":43.5,"lo":35.9,"hi":51.1},{"s":"C₅T₄A₂₀","k":"Compressive stress","v":2.93,"lo":2.69,"hi":3.17},
{"s":"C₇T₄A₂₀","k":"Compressive modulus","v":30.2,"lo":24.4,"hi":36.0},{"s":"C₇T₄A₂₀","k":"Compressive stress","v":2.87,"lo":2.76,"hi":2.98},
{"s":"C₉T₄A₂₀","k":"Compressive modulus","v":28.1,"lo":23.6,"hi":32.6},{"s":"C₉T₄A₂₀","k":"Compressive stress","v":2.76,"lo":2.6,"hi":2.92},
{"s":"C₁₁T₄A₂₀","k":"Compressive modulus","v":19.4,"lo":15.9,"hi":22.9},{"s":"C₁₁T₄A₂₀","k":"Compressive stress","v":1.31,"lo":0.86,"hi":1.76},
{"s":"C₁₃T₄A₂₀","k":"Compressive modulus","v":33.1,"lo":31.3,"hi":34.9},{"s":"C₁₃T₄A₂₀","k":"Compressive stress","v":2.89,"lo":2.75,"hi":3.03},
{"s":"C₁₁T₂A₂₀","k":"Compressive modulus","v":13.5,"lo":11.0,"hi":16.0},{"s":"C₁₁T₂A₂₀","k":"Compressive stress","v":0.96,"lo":0.84,"hi":1.08},
{"s":"C₁₁T₆A₂₀","k":"Compressive modulus","v":49.8,"lo":48.2,"hi":51.4},{"s":"C₁₁T₆A₂₀","k":"Compressive stress","v":2.38,"lo":1.99,"hi":2.77},
{"s":"C₁₁T₈A₂₀","k":"Compressive modulus","v":53.0,"lo":48.9,"hi":57.1},{"s":"C₁₁T₈A₂₀","k":"Compressive stress","v":2.95,"lo":2.73,"hi":3.17},
{"s":"C₁₁T₄A₁₅","k":"Compressive modulus","v":9.8,"lo":8.0,"hi":11.6},{"s":"C₁₁T₄A₁₅","k":"Compressive stress","v":0.39,"lo":0.32,"hi":0.46},
{"s":"C₁₁T₄A₂₅","k":"Compressive modulus","v":57.8,"lo":54.6,"hi":61.0},{"s":"C₁₁T₄A₂₅","k":"Compressive stress","v":3.31,"lo":2.99,"hi":3.63}
]
},
"concat":[
{"concat":[
 {"hconcat":[
  {"width":1,"height":10,"data":{"name":"sp"},"mark":{"type":"point","opacity":0},"encoding":{},"view":{"stroke":null}},
  {"hconcat":[
  {"title":{"text":"a","dx":-6},"width":188,"height":152,"data":{"name":"pa"},"mark":{"type":"line","strokeWidth":1.6},
   "encoding":{"x":{"field":"x","type":"quantitative","scale":{"domain":[0,1800],"nice":false},"axis":{"title":"Tensile strain (%)","values":[0,400,800,1200,1600],"format":"d"}},
    "y":{"field":"y","type":"quantitative","scale":{"domain":[0,250],"nice":false},"axis":{"title":"Tensile stress (kPa)","values":[0,50,100,150,200,250],"titlePadding":5}},
    "color":{"field":"s","type":"nominal","scale":{"domain":["C₀T₀A₂₀","C₅T₄A₂₀","C₇T₄A₂₀","C₉T₄A₂₀","C₁₁T₄A₂₀","C₁₃T₄A₂₀"],"range":["#FF1F1F","#FF8A1C","#D27AD8","#1FF01F","#1C8A1C","#1A1AF5"]},"legend":{"orient":"none","legendX":10,"legendY":3,"title":null,"symbolType":"M-2,0H2","symbolSize":121,"symbolStrokeWidth":2.5,"labelFontSize":10,"labelOffset":10,"rowPadding":3}},
    "order":{"field":"i","type":"quantitative"}}},
  {"title":{"text":"b","dx":-6},"width":188,"height":152,"data":{"name":"pb"},"mark":{"type":"line","strokeWidth":1.6},
   "encoding":{"x":{"field":"x","type":"quantitative","scale":{"domain":[0,1800],"nice":false},"axis":{"title":"Tensile strain (%)","values":[0,400,800,1200,1600],"format":"d"}},
    "y":{"field":"y","type":"quantitative","scale":{"domain":[0,250],"nice":false},"axis":{"title":"Tensile stress (kPa)","values":[0,50,100,150,200,250]}},
    "color":{"field":"s","type":"nominal","scale":{"domain":["C₁₁T₂A₂₀","C₁₁T₆A₂₀","C₁₁T₈A₂₀","C₁₁T₄A₁₅","C₁₁T₄A₂₅"],"range":["#FF1F1F","#FF8A1C","#D27AD8","#1FF01F","#1C8A1C"]},"legend":{"orient":"none","legendX":10,"legendY":3,"title":null,"symbolType":"M-2,0H2","symbolSize":121,"symbolStrokeWidth":2.5,"labelFontSize":10,"labelOffset":10,"rowPadding":3}},
    "order":{"field":"i","type":"quantitative"}}},
  {"title":{"text":"c","dx":-6},"width":186,"height":152,
   "layer":[
    {"data":{"name":"pc"},"mark":{"type":"line","strokeWidth":1.6},
     "encoding":{"x":{"field":"x","type":"quantitative","scale":{"domain":[0,1300],"nice":false},"axis":{"title":"Tensile strain (%)","values":[0,200,400,600,800,1000,1200],"format":"d"}},
      "y":{"field":"y","type":"quantitative","scale":{"domain":[0,200],"nice":false},"axis":{"title":"Tensile stress (kPa)","values":[0,50,100,150,200]}},
      "color":{"field":"s","type":"nominal","scale":{"domain":["200%","400%","600%","800%","1000%","1200%"],"range":["#FF1F1F","#FF8A1C","#D27AD8","#1FF01F","#1C8A1C","#1A1AF5"]},"legend":{"orient":"none","legendX":12,"legendY":4,"title":null,"symbolType":"M-2,0H2","symbolSize":156,"symbolStrokeWidth":2.5,"labelFontSize":11,"labelFont":"Liberation Sans","labelOffset":11,"rowPadding":2}},
      "order":{"field":"i","type":"quantitative"}}},
    {"data":{"name":"pcarr"},"transform":[{"filter":"datum.d==='up'"}],"mark":{"type":"point","shape":"arrow","filled":true,"size":160,"angle":50,"opacity":0.7},
     "encoding":{"x":{"field":"x","type":"quantitative"},"y":{"field":"y","type":"quantitative"},"color":{"field":"s","type":"nominal","legend":null}}},
    {"data":{"name":"pcarr"},"transform":[{"filter":"datum.d==='down'"}],"mark":{"type":"point","shape":"arrow","filled":true,"size":160,"angle":215,"opacity":0.7},
     "encoding":{"x":{"field":"x","type":"quantitative"},"y":{"field":"y","type":"quantitative"},"color":{"field":"s","type":"nominal","legend":null}}}
   ]}
  ],"spacing":5,"resolve":{"scale":{"color":"independent","x":"independent","y":"independent"},"legend":{"color":"independent"}}}
 ],"spacing":0,"resolve":{"scale":{"color":"independent","x":"independent","y":"independent"},"legend":{"color":"independent"}}},
 {"hconcat":[
  {"width":3,"height":10,"data":{"name":"sp"},"mark":{"type":"point","opacity":0},"encoding":{},"view":{"stroke":null}},
  {"hconcat":[
  {"title":{"text":"d","dx":-4},"width":190,"height":156,
   "layer":[
    {"data":{"name":"pd"},"mark":{"type":"line","strokeWidth":1.6},
     "encoding":{"x":{"field":"x","type":"quantitative","scale":{"domain":[0,100],"nice":false},"axis":{"title":"Compressive strain (%)","values":[0,20,40,60,80,100]}},
      "y":{"field":"y","type":"quantitative","scale":{"domain":[-0.5,3.5],"nice":false},"axis":{"title":"Compressive stress (MPa)","values":[0,1,2,3],"titlePadding":3}},
      "color":{"field":"s","type":"nominal","scale":{"domain":["C₀T₀A₂₀","C₅T₄A₂₀","C₇T₄A₂₀","C₉T₄A₂₀","C₁₁T₄A₂₀","C₁₃T₄A₂₀"],"range":["#FF1F1F","#FF8A1C","#D27AD8","#1FF01F","#1C8A1C","#1A1AF5"]},"legend":{"orient":"none","legendX":8,"legendY":89,"columns":2,"direction":"horizontal","columnPadding":0,"title":null,"symbolType":"M-2,0H2","symbolSize":100,"symbolStrokeWidth":2.5,"labelFontSize":9,"labelOffset":8,"rowPadding":3}}}},
    {"data":{"name":"pdi"},
     "layer":[
      {"mark":{"type":"rect","fill":"white","stroke":"#333","strokeWidth":1},
       "encoding":{"x":{"datum":0,"type":"quantitative","scale":{"domain":[0,10],"range":[29,115],"nice":false},"axis":{"orient":"bottom","offset":-77.7,"title":null,"values":[0,5,10],"labelFontSize":7,"tickSize":2,"labelPadding":1}},"x2":{"datum":10},
        "y":{"datum":0,"type":"quantitative","scale":{"domain":[0,0.0045],"range":[78.3,6.7],"nice":false,"zero":false},"axis":{"orient":"left","offset":-29,"title":null,"values":[0,0.0015,0.003,0.0045],"format":".4f","labelFontSize":7,"tickSize":2,"labelPadding":1}},"y2":{"datum":0.0045}}},
      {"mark":{"type":"line","strokeWidth":1.4},
       "encoding":{"x":{"field":"x","type":"quantitative","scale":{"domain":[0,10],"range":[29,115],"nice":false},"axis":{"orient":"bottom","offset":-77.7,"title":null,"values":[0,5,10],"labelFontSize":7,"tickSize":2,"labelPadding":1}},
        "y":{"field":"y","type":"quantitative","scale":{"domain":[0,0.0045],"range":[78.3,6.7],"nice":false,"zero":false},"axis":{"orient":"left","offset":-29,"title":null,"values":[0,0.0015,0.003,0.0045],"format":".4f","labelFontSize":7,"tickSize":2,"labelPadding":1}},
        "color":{"field":"s","type":"nominal","legend":null}}}
     ]}
   ],
   "resolve":{"scale":{"x":"independent","y":"independent"},"axis":{"x":"independent","y":"independent"}}},
  {"hconcat":[
  {"title":{"text":"e","dx":-2},"width":193,"height":156,
   "layer":[
    {"data":{"name":"pe"},"mark":{"type":"line","strokeWidth":1.6},
     "encoding":{"x":{"field":"x","type":"quantitative","scale":{"domain":[0,100],"nice":false},"axis":{"title":"Compressive strain (%)","values":[0,20,40,60,80,100]}},
      "y":{"field":"y","type":"quantitative","scale":{"domain":[-0.5,4],"nice":false},"axis":{"title":"Compressive stress (MPa)","values":[0,1,2,3,4]}},
      "color":{"field":"s","type":"nominal","scale":{"domain":["C₁₁T₂A₂₀","C₁₁T₆A₂₀","C₁₁T₈A₂₀","C₁₁T₄A₁₅","C₁₁T₄A₂₅"],"range":["#FF1F1F","#FF8A1C","#D27AD8","#1FF01F","#1C8A1C"]},"legend":{"orient":"none","legendX":38,"legendY":108,"columns":2,"direction":"horizontal","columnPadding":14,"title":null,"symbolType":"M-2,0H2","symbolSize":121,"symbolStrokeWidth":2.5,"labelFontSize":10,"labelOffset":10,"rowPadding":3}}}},
    {"data":{"name":"pei"},
     "layer":[
      {"mark":{"type":"rect","fill":"white","stroke":"#333","strokeWidth":1},
       "encoding":{"x":{"datum":0,"type":"quantitative","scale":{"domain":[0,10],"range":[26.7,94.7],"nice":false},"axis":{"orient":"bottom","offset":-77.7,"title":null,"values":[0,5,10],"labelFontSize":7,"tickSize":2,"labelPadding":1}},"x2":{"datum":10},
        "y":{"datum":0,"type":"quantitative","scale":{"domain":[0,0.006],"range":[78.3,2.3],"nice":false,"zero":false},"axis":{"orient":"left","offset":-26.7,"title":null,"values":[0,0.002,0.004,0.006],"format":".3f","labelFontSize":7,"tickSize":2,"labelPadding":1}},"y2":{"datum":0.006}}},
      {"mark":{"type":"line","strokeWidth":1.4},
       "encoding":{"x":{"field":"x","type":"quantitative","scale":{"domain":[0,10],"range":[26.7,94.7],"nice":false},"axis":{"orient":"bottom","offset":-77.7,"title":null,"values":[0,5,10],"labelFontSize":7,"tickSize":2,"labelPadding":1}},
        "y":{"field":"y","type":"quantitative","scale":{"domain":[0,0.006],"range":[78.3,2.3],"nice":false,"zero":false},"axis":{"orient":"left","offset":-26.7,"title":null,"values":[0,0.002,0.004,0.006],"format":".3f","labelFontSize":7,"tickSize":2,"labelPadding":1}},
        "color":{"field":"s","type":"nominal","legend":null}}}
     ]}
   ],
   "resolve":{"scale":{"x":"independent","y":"independent"},"axis":{"x":"independent","y":"independent"}}},
  {"title":{"text":"f","dx":-2},"width":195,"height":156,
   "layer":[
    {"data":{"name":"pf"},"mark":{"type":"line","strokeWidth":1.8},
     "encoding":{"x":{"field":"x","type":"quantitative","scale":{"domain":[0,100],"nice":false},"axis":{"title":"Compressive strain (%)","values":[0,20,40,60,80,100]}},
      "y":{"field":"y","type":"quantitative","scale":{"domain":[0,225],"nice":false},"axis":{"title":"Compressive stress (kPa)","values":[0,50,100,150,200]}},
      "color":{"field":"s","type":"nominal","scale":{"domain":["20%","40%","60%","80%"],"range":["#FF1F1F","#FF8A1C","#D27AD8","#1FF01F"]},"legend":{"orient":"none","legendX":12,"legendY":104,"columns":2,"direction":"horizontal","columnPadding":2,"title":null,"symbolType":"M-2,0H2","symbolSize":156,"symbolStrokeWidth":2.5,"labelFontSize":11,"labelFont":"Liberation Sans","labelOffset":10,"rowPadding":2}},
      "order":{"field":"i","type":"quantitative"}}},
    {"data":{"name":"pf"},"transform":[{"filter":"datum.s==='20%' || datum.s==='40%'"}],
     "layer":[
      {"mark":{"type":"rect","fill":"white","stroke":"#333","strokeWidth":1},
       "encoding":{"x":{"datum":0,"type":"quantitative","scale":{"domain":[0,45],"range":[17.7,113.4],"nice":false},"axis":{"orient":"bottom","offset":-74.3,"title":null,"values":[0,10,20,30,40],"labelFontSize":7,"tickSize":2,"labelPadding":1}},"x2":{"datum":45},
        "y":{"datum":0,"type":"quantitative","scale":{"domain":[0,12.5],"range":[81.7,6.7],"nice":false,"zero":false},"axis":{"orient":"left","offset":-17.7,"title":null,"values":[0,4,8,12],"labelFontSize":7,"tickSize":2,"labelPadding":1}},"y2":{"datum":12.5}}},
      {"mark":{"type":"line","strokeWidth":1.4},
       "encoding":{"x":{"field":"x","type":"quantitative","scale":{"domain":[0,45],"range":[17.7,113.4],"nice":false},"axis":{"orient":"bottom","offset":-74.3,"title":null,"values":[0,10,20,30,40],"labelFontSize":7,"tickSize":2,"labelPadding":1}},
        "y":{"field":"y","type":"quantitative","scale":{"domain":[0,12.5],"range":[81.7,6.7],"nice":false,"zero":false},"axis":{"orient":"left","offset":-17.7,"title":null,"values":[0,4,8,12],"labelFontSize":7,"tickSize":2,"labelPadding":1}},
        "color":{"field":"s","type":"nominal","legend":null},
        "order":{"field":"i","type":"quantitative"}}}
     ]}
   ],
   "resolve":{"scale":{"x":"independent","y":"independent"},"axis":{"x":"independent","y":"independent"}}}
  ],"spacing":10,"resolve":{"scale":{"color":"independent","x":"independent","y":"independent"},"legend":{"color":"independent"}}}
  ],"spacing":-5,"resolve":{"scale":{"color":"independent","x":"independent","y":"independent"},"legend":{"color":"independent"}}}
 ],"spacing":0,"resolve":{"scale":{"color":"independent","x":"independent","y":"independent"},"legend":{"color":"independent"}}}
],"columns":1,"align":"none","spacing":-11,"resolve":{"scale":{"color":"independent","x":"independent","y":"independent"},"legend":{"color":"independent"}}},
{"concat":[
 {"hconcat":[
 {"width":1,"height":10,"data":{"name":"sp"},"mark":{"type":"point","opacity":0},"encoding":{},"view":{"stroke":null}},
 {"title":{"text":"g","dx":-2},"width":586,"height":237,"data":{"name":"pg"},
  "encoding":{"x":{"field":"s","type":"nominal","sort":null,"scale":{"paddingInner":0,"paddingOuter":0},"axis":{"title":null,"labelFont":"DejaVu Sans","labelFontSize":20,"labelAngle":-18,"labelAlign":"right","labelBaseline":"top","labelOffset":24,"labelPadding":6,"tickSize":5,"labelColor":"#000"}},
   "xOffset":{"field":"k","type":"nominal","scale":{"domain":["Toughness","Elastic modulus"],"paddingInner":0.1,"paddingOuter":0.45}}},
  "layer":[
   {"transform":[{"filter":"datum.k==='Toughness'"}],
    "layer":[
     {"mark":{"type":"bar","strokeWidth":0,"fill":{"gradient":"linear","x1":0,"y1":0,"x2":1,"y2":0,"stops":[{"offset":0,"color":"#F26B1D"},{"offset":0.6,"color":"#FFFFFF"},{"offset":1,"color":"#F26B1D"}]}},
      "encoding":{"y":{"field":"v","type":"quantitative","scale":{"domain":[0,1800],"nice":false},"axis":{"orient":"left","title":"Toughness (kJ/m³)","values":[0,300,600,900,1200,1500,1800],"format":"d","titleColor":"#F5861F","labelColor":"#F5861F","domainColor":"#F5861F","tickColor":"#F5861F","titleFontSize":21,"labelFontSize":17,"domainWidth":1.5,"tickSize":5,"titlePadding":8}}}},
     {"mark":{"type":"rule","color":"#F5821F","strokeWidth":1.5},"encoding":{"y":{"field":"lo","type":"quantitative","scale":{"domain":[0,1800],"nice":false},"axis":{"orient":"left","title":"Toughness (kJ/m³)","values":[0,300,600,900,1200,1500,1800],"format":"d","titleColor":"#F5861F","labelColor":"#F5861F","domainColor":"#F5861F","tickColor":"#F5861F","titleFontSize":21,"labelFontSize":17,"domainWidth":1.5,"tickSize":5,"titlePadding":8}},"y2":{"field":"hi"}}},
     {"mark":{"type":"tick","color":"#F5821F","thickness":1.5,"size":8},"encoding":{"y":{"field":"lo","type":"quantitative","scale":{"domain":[0,1800],"nice":false},"axis":{"orient":"left","title":"Toughness (kJ/m³)","values":[0,300,600,900,1200,1500,1800],"format":"d","titleColor":"#F5861F","labelColor":"#F5861F","domainColor":"#F5861F","tickColor":"#F5861F","titleFontSize":21,"labelFontSize":17,"domainWidth":1.5,"tickSize":5,"titlePadding":8}}}},
     {"mark":{"type":"tick","color":"#F5821F","thickness":1.5,"size":8},"encoding":{"y":{"field":"hi","type":"quantitative","scale":{"domain":[0,1800],"nice":false},"axis":{"orient":"left","title":"Toughness (kJ/m³)","values":[0,300,600,900,1200,1500,1800],"format":"d","titleColor":"#F5861F","labelColor":"#F5861F","domainColor":"#F5861F","tickColor":"#F5861F","titleFontSize":21,"labelFontSize":17,"domainWidth":1.5,"tickSize":5,"titlePadding":8}}}},
     {"mark":{"type":"point","filled":true,"opacity":0,"color":"#F47B2C","fill":{"gradient":"linear","x1":0,"y1":0,"x2":1,"y2":0,"stops":[{"offset":0,"color":"#F26B1D"},{"offset":0.6,"color":"#FFFFFF"},{"offset":1,"color":"#F26B1D"}]}},"encoding":{"y":{"field":"v","type":"quantitative","scale":{"domain":[0,1800],"nice":false},"axis":{"orient":"left","title":"Toughness (kJ/m³)","values":[0,300,600,900,1200,1500,1800],"format":"d","titleColor":"#F5861F","labelColor":"#F5861F","domainColor":"#F5861F","tickColor":"#F5861F","titleFontSize":21,"labelFontSize":17,"domainWidth":1.5,"tickSize":5,"titlePadding":8}},"shape":{"field":"k","type":"nominal","scale":{"domain":["Toughness"],"range":["M-1,-0.5H1V0.5H-1Z"]},"legend":{"orient":"none","legendX":62,"legendY":3,"title":null,"symbolSize":2025,"symbolStrokeWidth":0,"symbolOpacity":1,"labelFont":"Liberation Sans","labelFontSize":20,"labelOffset":7}}}}
    ]},
   {"transform":[{"filter":"datum.k==='Elastic modulus'"}],
    "layer":[
     {"mark":{"type":"bar","strokeWidth":0,"fill":{"gradient":"linear","x1":0,"y1":0,"x2":1,"y2":0,"stops":[{"offset":0,"color":"#22C4F0"},{"offset":0.55,"color":"#FFFFFF"},{"offset":1,"color":"#22C4F0"}]}},
      "encoding":{"y":{"field":"v","type":"quantitative","scale":{"domain":[0,120],"nice":false},"axis":{"orient":"right","title":"Elastic modulus (kPa)","values":[0,30,60,90,120],"titleColor":"#1CC8F2","labelColor":"#1CC8F2","domainColor":"#1CC8F2","tickColor":"#1CC8F2","titleFontSize":21,"labelFontSize":17,"domainWidth":1.5,"tickSize":5,"titlePadding":6}}}},
     {"mark":{"type":"rule","color":"#1CC8F2","strokeWidth":1.5},"encoding":{"y":{"field":"lo","type":"quantitative","scale":{"domain":[0,120],"nice":false},"axis":{"orient":"right","title":"Elastic modulus (kPa)","values":[0,30,60,90,120],"titleColor":"#1CC8F2","labelColor":"#1CC8F2","domainColor":"#1CC8F2","tickColor":"#1CC8F2","titleFontSize":21,"labelFontSize":17,"domainWidth":1.5,"tickSize":5,"titlePadding":6}},"y2":{"field":"hi"}}},
     {"mark":{"type":"tick","color":"#1CC8F2","thickness":1.5,"size":8},"encoding":{"y":{"field":"lo","type":"quantitative","scale":{"domain":[0,120],"nice":false},"axis":{"orient":"right","title":"Elastic modulus (kPa)","values":[0,30,60,90,120],"titleColor":"#1CC8F2","labelColor":"#1CC8F2","domainColor":"#1CC8F2","tickColor":"#1CC8F2","titleFontSize":21,"labelFontSize":17,"domainWidth":1.5,"tickSize":5,"titlePadding":6}}}},
     {"mark":{"type":"tick","color":"#1CC8F2","thickness":1.5,"size":8},"encoding":{"y":{"field":"hi","type":"quantitative","scale":{"domain":[0,120],"nice":false},"axis":{"orient":"right","title":"Elastic modulus (kPa)","values":[0,30,60,90,120],"titleColor":"#1CC8F2","labelColor":"#1CC8F2","domainColor":"#1CC8F2","tickColor":"#1CC8F2","titleFontSize":21,"labelFontSize":17,"domainWidth":1.5,"tickSize":5,"titlePadding":6}}}},
     {"mark":{"type":"point","filled":true,"opacity":0,"color":"#22C4F0","fill":{"gradient":"linear","x1":0,"y1":0,"x2":1,"y2":0,"stops":[{"offset":0,"color":"#22C4F0"},{"offset":0.55,"color":"#FFFFFF"},{"offset":1,"color":"#22C4F0"}]}},"encoding":{"y":{"field":"v","type":"quantitative","scale":{"domain":[0,120],"nice":false},"axis":{"orient":"right","title":"Elastic modulus (kPa)","values":[0,30,60,90,120],"titleColor":"#1CC8F2","labelColor":"#1CC8F2","domainColor":"#1CC8F2","tickColor":"#1CC8F2","titleFontSize":21,"labelFontSize":17,"domainWidth":1.5,"tickSize":5,"titlePadding":6}},"shape":{"field":"k","type":"nominal","scale":{"domain":["Elastic modulus"],"range":["M-1,-0.5H1V0.5H-1Z"]},"legend":{"orient":"none","legendX":334,"legendY":3,"title":null,"symbolSize":2025,"symbolStrokeWidth":0,"symbolOpacity":1,"labelFont":"Liberation Sans","labelFontSize":20,"labelOffset":7}}}}
    ]}
  ],
  "resolve":{"scale":{"y":"independent","shape":"independent"},"legend":{"shape":"independent"}}}
 ],"spacing":0,"resolve":{"scale":{"color":"independent","x":"independent","y":"independent","xOffset":"independent","shape":"independent"},"legend":{"color":"independent","shape":"independent"}}},
 {"hconcat":[
 {"width":1,"height":10,"data":{"name":"sp"},"mark":{"type":"point","opacity":0},"encoding":{},"view":{"stroke":null}},
 {"title":{"text":"h","dx":-2},"width":630,"height":253,"data":{"name":"ph"},
  "encoding":{"x":{"field":"s","type":"nominal","sort":null,"scale":{"paddingInner":0,"paddingOuter":0},"axis":{"title":null,"labelFont":"DejaVu Sans","labelFontSize":23,"labelAngle":-20,"labelAlign":"right","labelBaseline":"top","labelOffset":22,"labelPadding":6,"tickSize":5,"labelColor":"#000"}},
   "xOffset":{"field":"k","type":"nominal","scale":{"domain":["Compressive modulus","Compressive stress"],"paddingInner":0.08,"paddingOuter":0.43}}},
  "layer":[
   {"transform":[{"filter":"datum.k==='Compressive modulus'"}],
    "layer":[
     {"mark":{"type":"bar","strokeWidth":0,"fill":{"gradient":"linear","x1":0,"y1":0,"x2":1,"y2":0,"stops":[{"offset":0,"color":"#F26B1D"},{"offset":0.6,"color":"#FFFFFF"},{"offset":1,"color":"#F26B1D"}]}},
      "encoding":{"y":{"field":"v","type":"quantitative","scale":{"domain":[0,70],"nice":false},"axis":{"orient":"left","title":"Compressive modulus (kPa)","values":[0,10,20,30,40,50,60,70],"titleColor":"#F5861F","labelColor":"#F5861F","domainColor":"#F5861F","tickColor":"#F5861F","titleFontSize":20,"labelFontSize":21,"domainWidth":1.5,"tickSize":5,"titlePadding":3}}}},
     {"mark":{"type":"rule","color":"#F5821F","strokeWidth":1.5},"encoding":{"y":{"field":"lo","type":"quantitative","scale":{"domain":[0,70],"nice":false},"axis":{"orient":"left","title":"Compressive modulus (kPa)","values":[0,10,20,30,40,50,60,70],"titleColor":"#F5861F","labelColor":"#F5861F","domainColor":"#F5861F","tickColor":"#F5861F","titleFontSize":20,"labelFontSize":21,"domainWidth":1.5,"tickSize":5,"titlePadding":3}},"y2":{"field":"hi"}}},
     {"mark":{"type":"tick","color":"#F5821F","thickness":1.5,"size":8},"encoding":{"y":{"field":"lo","type":"quantitative","scale":{"domain":[0,70],"nice":false},"axis":{"orient":"left","title":"Compressive modulus (kPa)","values":[0,10,20,30,40,50,60,70],"titleColor":"#F5861F","labelColor":"#F5861F","domainColor":"#F5861F","tickColor":"#F5861F","titleFontSize":20,"labelFontSize":21,"domainWidth":1.5,"tickSize":5,"titlePadding":3}}}},
     {"mark":{"type":"tick","color":"#F5821F","thickness":1.5,"size":8},"encoding":{"y":{"field":"hi","type":"quantitative","scale":{"domain":[0,70],"nice":false},"axis":{"orient":"left","title":"Compressive modulus (kPa)","values":[0,10,20,30,40,50,60,70],"titleColor":"#F5861F","labelColor":"#F5861F","domainColor":"#F5861F","tickColor":"#F5861F","titleFontSize":20,"labelFontSize":21,"domainWidth":1.5,"tickSize":5,"titlePadding":3}}}},
     {"mark":{"type":"point","filled":true,"opacity":0,"color":"#F47B2C","fill":{"gradient":"linear","x1":0,"y1":0,"x2":1,"y2":0,"stops":[{"offset":0,"color":"#F26B1D"},{"offset":0.6,"color":"#FFFFFF"},{"offset":1,"color":"#F26B1D"}]}},"encoding":{"y":{"field":"v","type":"quantitative","scale":{"domain":[0,70],"nice":false},"axis":{"orient":"left","title":"Compressive modulus (kPa)","values":[0,10,20,30,40,50,60,70],"titleColor":"#F5861F","labelColor":"#F5861F","domainColor":"#F5861F","tickColor":"#F5861F","titleFontSize":20,"labelFontSize":21,"domainWidth":1.5,"tickSize":5,"titlePadding":3}},"shape":{"field":"k","type":"nominal","scale":{"domain":["Compressive modulus"],"range":["M-1,-0.5H1V0.5H-1Z"]},"legend":{"orient":"none","legendX":41,"legendY":1,"title":null,"symbolSize":2025,"symbolStrokeWidth":0,"symbolOpacity":1,"labelFont":"Liberation Sans","labelFontSize":20,"labelOffset":7}}}}
    ]},
   {"transform":[{"filter":"datum.k==='Compressive stress'"}],
    "layer":[
     {"mark":{"type":"bar","strokeWidth":0,"fill":{"gradient":"linear","x1":0,"y1":0,"x2":1,"y2":0,"stops":[{"offset":0,"color":"#22C4F0"},{"offset":0.55,"color":"#FFFFFF"},{"offset":1,"color":"#22C4F0"}]}},
      "encoding":{"y":{"field":"v","type":"quantitative","scale":{"domain":[0,5],"nice":false},"axis":{"orient":"right","title":"Compressive stress (MPa)","values":[0,1,2,3,4,5],"titleColor":"#1CC8F2","labelColor":"#1CC8F2","domainColor":"#1CC8F2","tickColor":"#1CC8F2","titleFontSize":20,"labelFontSize":21,"domainWidth":1.5,"tickSize":5,"titlePadding":6}}}},
     {"mark":{"type":"rule","color":"#1CC8F2","strokeWidth":1.5},"encoding":{"y":{"field":"lo","type":"quantitative","scale":{"domain":[0,5],"nice":false},"axis":{"orient":"right","title":"Compressive stress (MPa)","values":[0,1,2,3,4,5],"titleColor":"#1CC8F2","labelColor":"#1CC8F2","domainColor":"#1CC8F2","tickColor":"#1CC8F2","titleFontSize":20,"labelFontSize":21,"domainWidth":1.5,"tickSize":5,"titlePadding":6}},"y2":{"field":"hi"}}},
     {"mark":{"type":"tick","color":"#1CC8F2","thickness":1.5,"size":8},"encoding":{"y":{"field":"lo","type":"quantitative","scale":{"domain":[0,5],"nice":false},"axis":{"orient":"right","title":"Compressive stress (MPa)","values":[0,1,2,3,4,5],"titleColor":"#1CC8F2","labelColor":"#1CC8F2","domainColor":"#1CC8F2","tickColor":"#1CC8F2","titleFontSize":20,"labelFontSize":21,"domainWidth":1.5,"tickSize":5,"titlePadding":6}}}},
     {"mark":{"type":"tick","color":"#1CC8F2","thickness":1.5,"size":8},"encoding":{"y":{"field":"hi","type":"quantitative","scale":{"domain":[0,5],"nice":false},"axis":{"orient":"right","title":"Compressive stress (MPa)","values":[0,1,2,3,4,5],"titleColor":"#1CC8F2","labelColor":"#1CC8F2","domainColor":"#1CC8F2","tickColor":"#1CC8F2","titleFontSize":20,"labelFontSize":21,"domainWidth":1.5,"tickSize":5,"titlePadding":6}}}},
     {"mark":{"type":"point","filled":true,"opacity":0,"color":"#22C4F0","fill":{"gradient":"linear","x1":0,"y1":0,"x2":1,"y2":0,"stops":[{"offset":0,"color":"#22C4F0"},{"offset":0.55,"color":"#FFFFFF"},{"offset":1,"color":"#22C4F0"}]}},"encoding":{"y":{"field":"v","type":"quantitative","scale":{"domain":[0,5],"nice":false},"axis":{"orient":"right","title":"Compressive stress (MPa)","values":[0,1,2,3,4,5],"titleColor":"#1CC8F2","labelColor":"#1CC8F2","domainColor":"#1CC8F2","tickColor":"#1CC8F2","titleFontSize":20,"labelFontSize":21,"domainWidth":1.5,"tickSize":5,"titlePadding":6}},"shape":{"field":"k","type":"nominal","scale":{"domain":["Compressive stress"],"range":["M-1,-0.5H1V0.5H-1Z"]},"legend":{"orient":"none","legendX":365,"legendY":1,"title":null,"symbolSize":2025,"symbolStrokeWidth":0,"symbolOpacity":1,"labelFont":"Liberation Sans","labelFontSize":20,"labelOffset":7}}}}
    ]}
  ],
  "resolve":{"scale":{"y":"independent","shape":"independent"},"legend":{"shape":"independent"}}}
 ],"spacing":0,"resolve":{"scale":{"color":"independent","x":"independent","y":"independent","xOffset":"independent","shape":"independent"},"legend":{"color":"independent","shape":"independent"}}}
],"columns":1,"align":"none","spacing":-17,"resolve":{"scale":{"color":"independent","x":"independent","y":"independent","xOffset":"independent","shape":"independent"},"legend":{"color":"independent","shape":"independent"}}}
],
"columns":1,"align":"none","spacing":-15,
"resolve":{"scale":{"color":"independent","x":"independent","y":"independent","xOffset":"independent","shape":"independent"},"legend":{"color":"independent","shape":"independent"}}
}
